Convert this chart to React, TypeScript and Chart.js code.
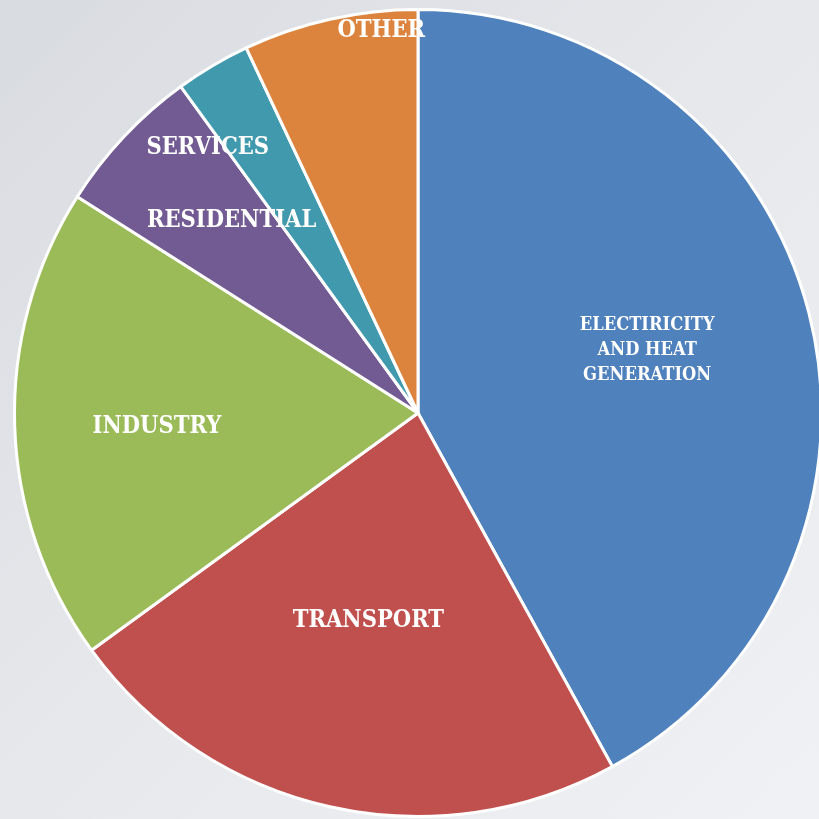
import React, { useEffect, useRef } from "react";
import { Chart, registerables } from "chart.js";

Chart.register(...registerables);

const categories = ["ELECTIRICITY\nAND HEAT\nGENERATION", "TRANSPORT", "INDUSTRY", "RESIDENTIAL", "SERVICES", "OTHER"];
const values = [42, 23, 19, 6, 3, 7];
const colors = ["#4f81bd", "#c0504d", "#9bbb59", "#725a93", "#4199ae", "#dc843e"];
// label anchor offsets as fractions of the pie radius (x, y from centre)
const labelOffsetX = [0.568, -0.123, -0.647, -0.462, -0.521, -0.091];
const labelOffsetY = [-0.157, 0.515, 0.033, -0.477, -0.658, -0.948];
const labelSizes = [19, 24, 24, 24, 24, 24];

const labelPlugin = {
  id: "sliceLabels",
  afterDatasetsDraw(chart: any) {
    const meta = chart.getDatasetMeta(0);
    const arc = meta.data[0];
    if (!arc) return;
    const cx = arc.x, cy = arc.y, r = arc.outerRadius;
    const ctx = chart.ctx;
    ctx.save();
    ctx.fillStyle = "#ffffff";
    ctx.textAlign = "center";
    ctx.textBaseline = "middle";
    categories.forEach((c, i) => {
      const size = labelSizes[i];
      ctx.font = `bold ${size}px "DejaVu Serif", "Liberation Serif", serif`;
      const lines = c.split("\n");
      const lh = size * 1.32;
      const x = cx + labelOffsetX[i] * r;
      const y0 = cy + labelOffsetY[i] * r - ((lines.length - 1) * lh) / 2;
      const sx = i === 0 ? 0.86 : 0.88;
      lines.forEach((ln, j) => {
        ctx.save();
        ctx.translate(x, y0 + j * lh);
        ctx.scale(sx, 1);
        ctx.fillText(ln, 0, 0);
        ctx.restore();
      });
    });
    ctx.restore();
  },
};

export default function App() {
  const ref = useRef<HTMLCanvasElement>(null);
  useEffect(() => {
    const chart = new Chart(ref.current!, {
      type: "pie",
      data: {
        labels: categories,
        datasets: [
          {
            data: values,
            backgroundColor: colors,
            borderColor: "#ffffff",
            borderWidth: 3,
          },
        ],
      },
      options: {
        animation: false,
        responsive: false,
        maintainAspectRatio: false,
        layout: { padding: 2 },
        plugins: { legend: { display: false }, tooltip: { enabled: false } },
      },
      plugins: [labelPlugin],
    });
    return () => chart.destroy();
  }, []);
  return (
    <div
      style={{
        position: "fixed",
        left: 0,
        top: 0,
        width: 819,
        height: 819,
        overflow: "hidden",
        background: "linear-gradient(135deg, #d8dbe0 0%, #e6e8ec 50%, #f0f1f5 100%)",
      }}
    >
      <canvas
        ref={ref}
        width={814}
        height={814}
        style={{ position: "absolute", left: 11, top: 6, width: 814, height: 814 }}
      />
    </div>
  );
}
